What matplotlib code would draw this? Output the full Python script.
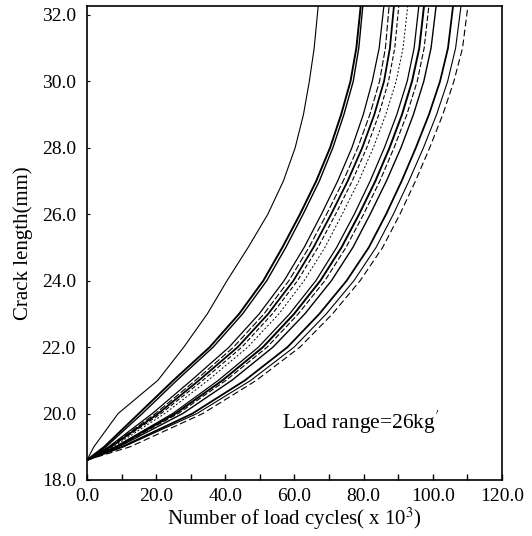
import matplotlib
matplotlib.use("Agg")
import matplotlib.pyplot as plt
from matplotlib.ticker import MultipleLocator

plt.rcParams["font.family"] = ["Liberation Serif", "DejaVu Serif"]
plt.rcParams["mathtext.fontset"] = "stix"

# crack length levels (mm) at which the cycle counts were read
crack_mm = [18.6, 19, 20, 21, 22, 23, 24, 25, 26, 27, 28, 29, 30, 31, 32.3]

# number of load cycles (x 10^3) to reach each crack length, one list per specimen
cycles_a  = [0, 2.0, 9.0, 20.5, 28.0, 34.8, 40.5, 46.6, 52.3, 56.8, 60.2, 62.6, 64.3, 65.7, 66.9]
cycles_b  = [0, 5.0, 15.0, 25.0, 35.5, 44.0, 51.0, 56.5, 61.6, 66.3, 70.3, 73.5, 76.2, 77.9, 79.2]
cycles_c  = [0, 5.5, 16.0, 26.0, 36.5, 45.0, 52.0, 57.5, 62.5, 67.2, 71.1, 74.3, 77.0, 78.6, 79.8]
cycles_d  = [0, 6.3, 18.9, 30.2, 41.1, 49.8, 57.0, 62.8, 67.8, 72.5, 76.6, 79.9, 82.5, 84.5, 85.9]
cycles_e  = [0, 6.6, 19.8, 31.4, 42.4, 51.2, 58.4, 64.2, 69.3, 74.1, 78.3, 81.8, 84.6, 86.3, 87.4]
cycles_f  = [0, 6.9, 20.6, 32.4, 43.6, 52.4, 59.7, 65.5, 70.6, 75.4, 79.6, 83.1, 85.9, 87.6, 88.8]
cycles_g  = [0, 7.1, 21.4, 33.5, 44.8, 53.6, 60.9, 66.8, 71.9, 76.7, 80.9, 84.4, 87.2, 89.0, 90.2]
cycles_h  = [0, 7.6, 22.5, 35.0, 46.5, 55.5, 62.8, 68.8, 73.8, 78.6, 82.8, 86.4, 89.4, 91.4, 92.8]
cycles_i  = [0, 8.3, 24.8, 38.0, 49.6, 58.6, 66.2, 72.2, 77.3, 81.9, 86.0, 89.6, 92.6, 94.6, 96.0]
cycles_j  = [0, 8.5, 25.6, 39.2, 50.9, 59.9, 67.5, 73.6, 78.7, 83.4, 87.5, 91.1, 94.0, 96.1, 97.5]
cycles_k  = [0, 8.8, 26.4, 40.2, 52.1, 61.1, 68.8, 74.9, 80.0, 84.7, 88.8, 92.5, 95.5, 97.5, 98.9]
cycles_l  = [0, 9.2, 27.7, 41.9, 53.8, 63.0, 70.7, 76.9, 81.9, 86.6, 90.8, 94.4, 97.4, 99.5, 101.0]
cycles_m  = [0, 10.2, 30.5, 45.7, 58.0, 67.2, 75.1, 81.5, 86.5, 91.0, 95.1, 98.9, 102.1, 104.4, 105.9]
cycles_n  = [0, 10.6, 31.8, 47.4, 59.9, 69.2, 77.2, 83.6, 88.6, 93.1, 97.3, 101.1, 104.3, 106.6, 108.2]
cycles_o  = [0, 12.5, 33.5, 49.0, 61.6, 71.0, 79.0, 85.5, 90.5, 95.0, 99.1, 102.9, 106.1, 108.6, 110.2]

series = [cycles_a, cycles_b, cycles_c, cycles_d, cycles_e, cycles_f, cycles_g, cycles_h,
          cycles_i, cycles_j, cycles_k, cycles_l, cycles_m, cycles_n, cycles_o]
widths = [0.8, 1.4, 1.0, 0.9, 0.8, 1.3, 0.8, 0.7, 0.9, 1.4, 0.8, 1.0, 1.3, 0.8, 0.8]
styles = ["-", "-", "-", "-", (0, (6, 2)), "-", (0, (4, 2)), (0, (2, 2)),
          "-", "-", (0, (5, 2)), "-", "-", "-", (0, (6, 3))]

fig = plt.figure(figsize=(5.32, 5.36), dpi=100)
ax = fig.add_axes([0.1635, 0.1045, 0.78, 0.8845])

for xs, lw, ls in zip(series, widths, styles):
    ax.plot(xs, crack_mm, color="black", linewidth=lw, linestyle=ls)

ax.set_xlim(0, 120)
ax.set_ylim(18, 32.27)
ax.xaxis.set_major_locator(MultipleLocator(20))
ax.xaxis.set_minor_locator(MultipleLocator(10))
ax.set_yticks([18, 20, 22, 24, 26, 28, 30, 32])
ax.xaxis.set_major_formatter(lambda v, p: f"{v:.1f}")
ax.yaxis.set_major_formatter(lambda v, p: f"{v:.1f}")
ax.tick_params(axis="x", which="both", direction="in", length=4, width=1.0,
               labelsize=14, pad=6)
ax.tick_params(axis="y", which="both", direction="in", length=2, width=0.8,
               labelsize=14, pad=8)
for sp in ax.spines.values():
    sp.set_linewidth(1.2)

ax.set_xlabel(r"Number of load cycles( x 10$^3$)", fontsize=15, labelpad=0)
ax.set_ylabel("Crack length(mm)", fontsize=15, labelpad=6)

ax.text(56.3, 19.72, "Load range=26kg$^{\\prime}$", fontsize=15.5, va="center", ha="left")

fig.savefig("out.png", dpi=100)
